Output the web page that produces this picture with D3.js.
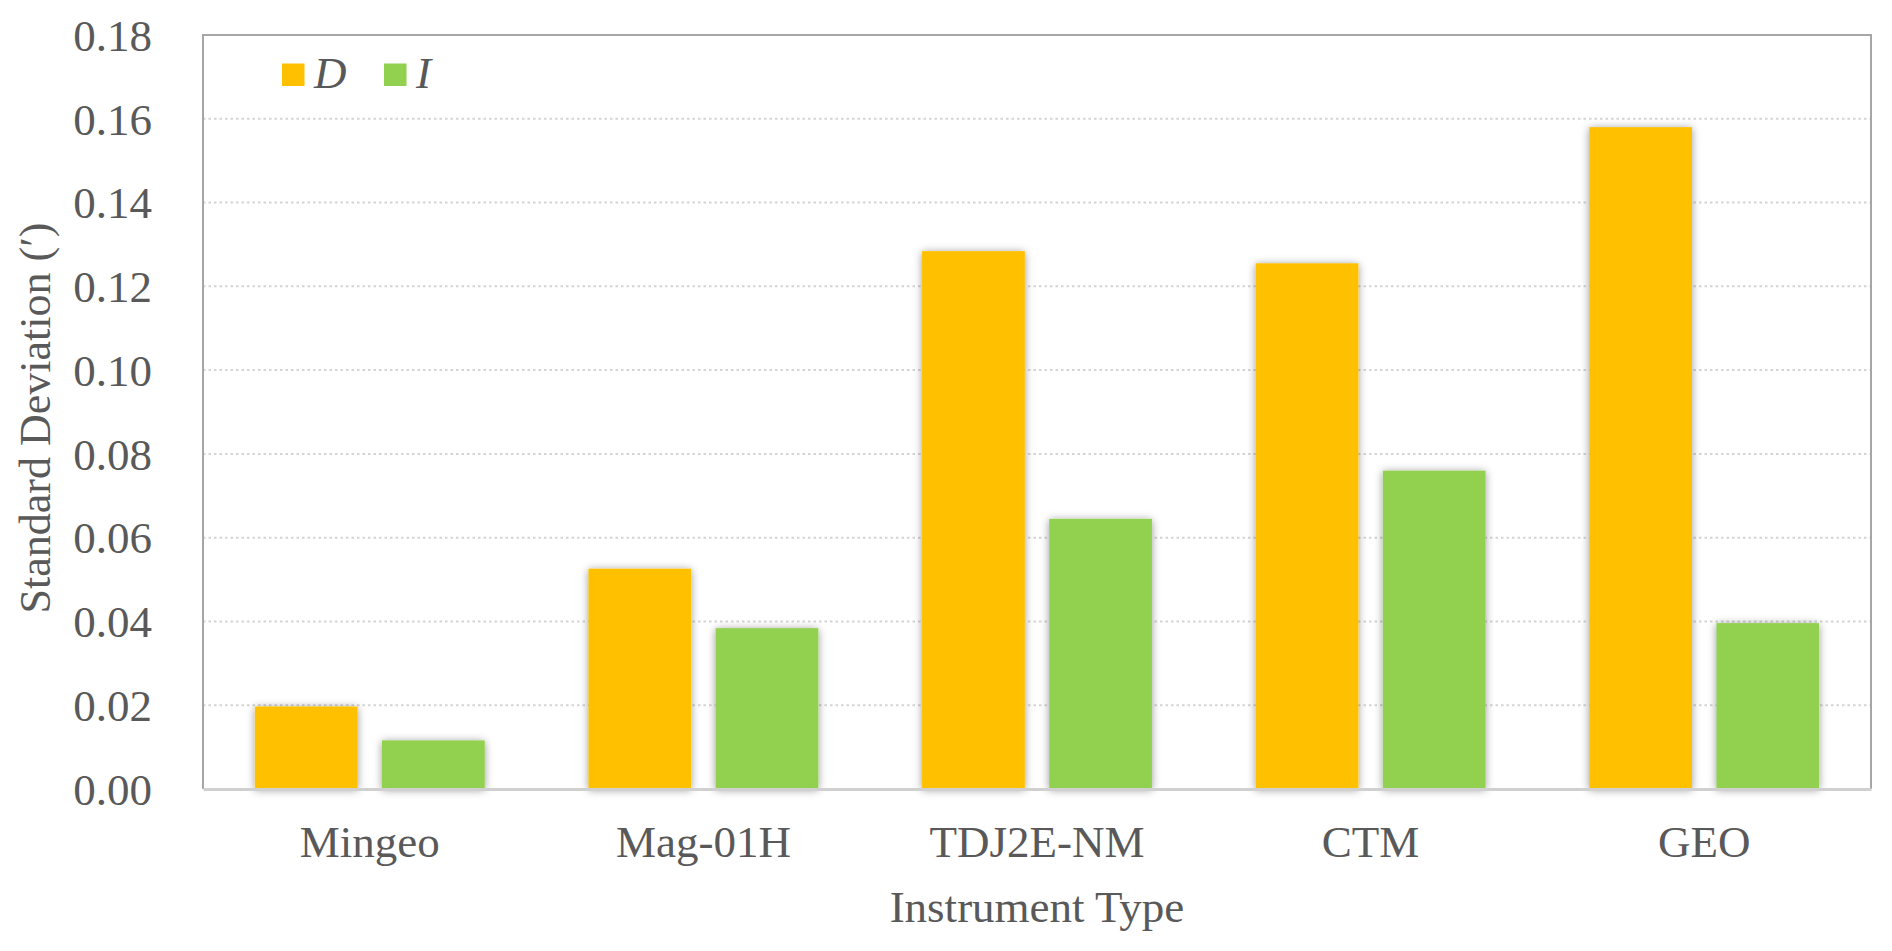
<!DOCTYPE html>
<html>
<head>
<meta charset="utf-8">
<script src="https://cdn.jsdelivr.net/npm/d3@7"></script>
<style>
  html, body { margin: 0; padding: 0; background: #ffffff; }
  svg { display: block; }
  text { font-family: "Liberation Serif", "Times New Roman", serif; fill: #595959; }
</style>
</head>
<body>
<svg id="chart" width="1892" height="951"></svg>
<script>
const categories = ["Mingeo", "Mag-01H", "TDJ2E-NM", "CTM", "GEO"];
const seriesNames = ["D", "I"];
const valuesD = [0.0197, 0.0526, 0.1284, 0.1255, 0.1580];
const valuesI = [0.0116, 0.0384, 0.0645, 0.0760, 0.0396];
const yTicks = [0, 0.02, 0.04, 0.06, 0.08, 0.10, 0.12, 0.14, 0.16, 0.18];
const colors = { D: "#FFC000", I: "#92D050" };

const W = 1892, H = 951;
const plot = { left: 203, right: 1871, top: 35, bottom: 789 };
const svg = d3.select("#chart");

const defs = svg.append("defs");
const f = defs.append("filter").attr("id", "shadow")
  .attr("x", "-20%").attr("y", "-20%").attr("width", "140%").attr("height", "140%");
f.append("feDropShadow").attr("dx", 0).attr("dy", 1).attr("stdDeviation", 4)
  .attr("flood-color", "#000").attr("flood-opacity", 0.4);

const x0 = d3.scaleBand().domain(categories).range([plot.left, plot.right]).padding(0);
const x1 = d3.scaleBand().domain(seriesNames).range([0, x0.bandwidth()])
  .paddingInner(0.192).paddingOuter(0.408);
const y = d3.scaleLinear().domain([0, 0.18]).range([plot.bottom, plot.top]);

// gridlines
svg.append("g").selectAll("line")
  .data(yTicks.filter(t => t > 0 && t < 0.18))
  .join("line")
  .attr("x1", plot.left).attr("x2", plot.right)
  .attr("y1", d => y(d)).attr("y2", d => y(d))
  .attr("stroke", "#d4d4d4").attr("stroke-width", 2)
  .attr("stroke-dasharray", "2.5,3");

// bars
const data = categories.map((c, i) => ({ cat: c, D: valuesD[i], I: valuesI[i] }));
const groups = svg.append("g").selectAll("g")
  .data(data).join("g")
  .attr("transform", d => `translate(${x0(d.cat)},0)`);
groups.selectAll("rect")
  .data(d => seriesNames.map(s => ({ s, v: d[s] })))
  .join("rect")
  .attr("x", d => x1(d.s))
  .attr("width", x1.bandwidth())
  .attr("y", d => y(d.v))
  .attr("height", d => y(0) - y(d.v))
  .attr("fill", d => colors[d.s])
  .attr("filter", "url(#shadow)");

// plot border (top, left, right)
svg.append("path")
  .attr("d", `M${plot.left},${plot.bottom} V${plot.top} H${plot.right} V${plot.bottom}`)
  .attr("fill", "none").attr("stroke", "#a6a6a6").attr("stroke-width", 2);

// x axis line
const xAxis = d3.axisBottom(x0).tickSize(0).tickPadding(0);
const gx = svg.append("g").attr("transform", `translate(0,${plot.bottom})`).call(xAxis);
gx.select(".domain").attr("stroke", "#d0d0d0").attr("stroke-width", 3);
gx.selectAll(".tick text")
  .attr("y", 68).attr("dy", 0)
  .style("font-size", "45px").attr("fill", "#595959")
  .style("font-family", "'Liberation Serif', 'Times New Roman', serif");

// y axis labels
const yAxis = d3.axisLeft(y).tickValues(yTicks).tickFormat(d3.format(".2f")).tickSize(0).tickPadding(0);
const gy = svg.append("g").attr("transform", `translate(${plot.left},0)`).call(yAxis);
gy.select(".domain").remove();
gy.selectAll(".tick text")
  .attr("x", -51).attr("dy", "0.34em")
  .style("font-size", "45px").attr("fill", "#595959")
  .style("font-family", "'Liberation Serif', 'Times New Roman', serif");

// axis titles
svg.append("text")
  .attr("x", (plot.left + plot.right) / 2).attr("y", 922)
  .attr("text-anchor", "middle").style("font-size", "45px")
  .text("Instrument Type");
svg.append("text")
  .attr("transform", `translate(50,418) rotate(-90)`)
  .attr("text-anchor", "middle").style("font-size", "44px")
  .text("Standard Deviation (′)");

// legend
const legendX = [282, 384];
const lg = svg.append("g");
seriesNames.forEach((s, i) => {
  lg.append("rect").attr("x", legendX[i]).attr("y", 63.5)
    .attr("width", 22.5).attr("height", 22.5).attr("fill", colors[s]);
  lg.append("text").attr("x", legendX[i] + 32).attr("y", 88)
    .style("font-size", "45px").style("font-style", "italic")
    .text(s);
});
</script>
</body>
</html>
